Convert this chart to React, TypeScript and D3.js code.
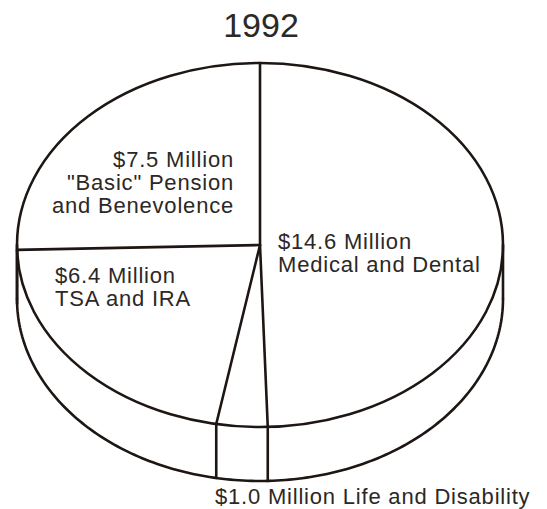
import React from 'react';
import * as d3 from 'd3';

const title = '1992';
const amounts = [14.6, 1.0, 6.4, 7.5];
const amountLabels = ['$14.6 Million', '$1.0 Million', '$6.4 Million', '$7.5 Million'];
const categoryLines = [
  ['Medical and Dental'],
  ['Life and Disability'],
  ['TSA and IRA'],
  ['"Basic" Pension', 'and Benevolence'],
];

const W = 547;
const H = 509;
const cx = 260;
const cy = 245;
const rx = 243;
const ry = 182;
const depth = 54;
const ink = '#1d1612';
const textInk = '#2b2826';
const font = '"Liberation Sans", Arial, Helvetica, sans-serif';

// where each label sits (x, first baseline, anchor), in slice order
const labelSpots = [
  { x: 278, y: 249, anchor: 'start', inline: false },
  { x: 215, y: 504, anchor: 'start', inline: true },
  { x: 55, y: 283, anchor: 'start', inline: false },
  { x: 234, y: 167, anchor: 'end', inline: false },
];

const px = (a: number) => cx + rx * Math.sin(a);
const py = (a: number, dy = 0) => cy - ry * Math.cos(a) + dy;

const App = () => {
  const pie = d3.pie<number>().sort(null).value((d) => d);
  const arcs = pie(amounts);

  const line = d3.line<number>().x((a) => px(a)).y((a) => py(a, depth));
  // front side: lower half of the bottom rim
  const rim = line(d3.range(Math.PI / 2, (3 * Math.PI) / 2 + 0.001, Math.PI / 180)) as string;

  const edges = arcs.map((d) => d.startAngle);
  const frontEdges = edges.filter((a) => a > Math.PI / 2 && a < (3 * Math.PI) / 2);

  return (
    <svg width={W} height={H} style={{ position: 'absolute', left: 0, top: 0, background: '#fff' }}>
      <text x={261} y={37} textAnchor="middle" fontSize={34} fontFamily={font} fill={textInk}>
        {title}
      </text>
      <g fill="none" stroke={ink} strokeWidth={2.6} strokeLinecap="round">
        <ellipse cx={cx} cy={cy} rx={rx} ry={ry} />
        <line x1={cx - rx} y1={cy} x2={cx - rx} y2={cy + depth} />
        <line x1={cx + rx} y1={cy} x2={cx + rx} y2={cy + depth} />
        <path d={rim} />
        {edges.map((a, i) => (
          <line key={'r' + i} x1={cx} y1={cy} x2={px(a)} y2={py(a)} />
        ))}
        {frontEdges.map((a, i) => (
          <line key={'v' + i} x1={px(a)} y1={py(a)} x2={px(a)} y2={py(a, depth)} />
        ))}
      </g>
      <g fontFamily={font} fontSize={22} fill={textInk} letterSpacing={0.8}>
        {labelSpots.map((s, i) => {
          const lines = s.inline
            ? [`${amountLabels[i]} ${categoryLines[i].join(' ')}`]
            : [amountLabels[i], ...categoryLines[i]];
          return (
            <text key={i} x={s.x} y={s.y} textAnchor={s.anchor}>
              {lines.map((t, j) => (
                <tspan key={j} x={s.x} dy={j === 0 ? 0 : 23}>
                  {t}
                </tspan>
              ))}
            </text>
          );
        })}
      </g>
    </svg>
  );
};

export default App;
